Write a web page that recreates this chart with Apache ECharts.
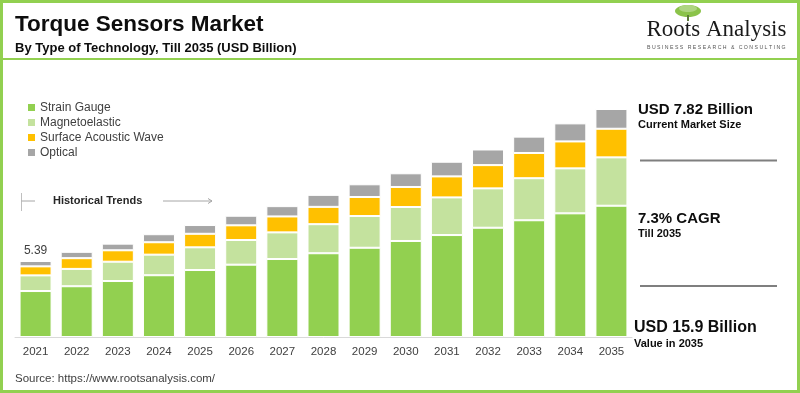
<!DOCTYPE html>
<html>
<head>
<meta charset="utf-8">
<script src="https://cdn.jsdelivr.net/npm/echarts@6/dist/echarts.min.js"></script>
<style>
html,body{margin:0;padding:0;background:#fff;}
#chart{width:800px;height:393px;}
</style>
</head>
<body>
<div id="chart"></div>
<script>
const years = ['2021','2022','2023','2024','2025','2026','2027','2028','2029','2030','2031','2032','2033','2034','2035'];
const strainGauge    = [3.26,3.60,3.97,4.38,4.75,5.13,5.53,5.94,6.33,6.81,7.23,7.75,8.28,8.77,9.31];
const magnetoelastic = [1.11,1.23,1.37,1.46,1.61,1.75,1.89,2.06,2.25,2.41,2.67,2.79,2.98,3.19,3.43];
const surfaceAcoustic= [0.64,0.76,0.81,0.88,0.96,1.04,1.13,1.23,1.35,1.42,1.49,1.65,1.79,1.91,2.03];
const optical        = [0.38,0.45,0.47,0.57,0.62,0.68,0.73,0.85,0.90,0.97,1.04,1.11,1.16,1.28,1.40];
const seriesNames = ['Strain Gauge','Magnetoelastic','Surface Acoustic Wave','Optical'];
const colors = ['#92D050','#C4E29E','#FFC000','#A6A6A6'];

const total2021 = (strainGauge[0]+magnetoelastic[0]+surfaceAcoustic[0]+optical[0]).toFixed(2);

const chart = echarts.init(document.getElementById('chart'), null, {renderer:'canvas'});
const FONT = '"Liberation Sans", Arial, sans-serif';
const seriesData = [strainGauge, magnetoelastic, surfaceAcoustic, optical];

const series = seriesData.map((d, i) => ({
  name: seriesNames[i],
  type: 'bar',
  stack: 'total',
  barWidth: 32,
  itemStyle: { color: colors[i], borderColor: '#fff', borderWidth: 1 },
  emphasis: { disabled: true },
  data: d.map((v, j) => (i === 3 && j === 0)
    ? { value: v, label: { show: true, position: 'top', distance: 4, formatter: total2021, fontSize: 12, color: '#404040', fontFamily: FONT } }
    : v)
}));

function txt(text, x, y, size, bold, color, extra) {
  return {
    type: 'text', x: x, y: y, silent: true,
    style: Object.assign({
      text: text,
      font: (bold ? 'bold ' : '') + size + 'px ' + FONT,
      fill: color || '#000',
      verticalAlign: 'middle',
      align: 'left'
    }, extra || {})
  };
}

const graphic = [
  // border
  { type: 'rect', silent: true, shape: { x: 1.5, y: 1.5, width: 797, height: 390 }, style: { fill: 'none', stroke: '#92D050', lineWidth: 3 } },
  { type: 'line', silent: true, shape: { x1: 3, y1: 59, x2: 797, y2: 59 }, style: { stroke: '#92D050', lineWidth: 2 } },
  // titles
  txt('Torque Sensors Market', 15, 25, 22.5, true, '#0d0d0d'),
  txt('By Type of Technology, Till 2035 (USD Billion)', 15, 48.5, 13, true, '#0d0d0d'),
  // logo
  { type: 'ellipse', silent: true, shape: { cx: 688, cy: 11, rx: 13, ry: 6 }, style: { fill: '#8BC34A' } },
  { type: 'ellipse', silent: true, shape: { cx: 688, cy: 8.5, rx: 9, ry: 3.5 }, style: { fill: '#AED581' } },
  { type: 'rect', silent: true, shape: { x: 687, y: 15, width: 2, height: 6 }, style: { fill: '#5D7A3A' } },
  txt('Roots Analysis', 646.5, 29.5, 23, false, '#1a1a1a', { font: '23px "Liberation Serif", "Times New Roman", serif' }),
  txt('B U S I N E S S   R E S E A R C H   &   C O N S U L T I N G', 647, 48, 5.2, false, '#555'),
  // historical trends
  { type: 'line', silent: true, shape: { x1: 21.5, y1: 193, x2: 21.5, y2: 211 }, style: { stroke: '#BFBFBF', lineWidth: 1 } },
  { type: 'line', silent: true, shape: { x1: 21.5, y1: 201, x2: 35, y2: 201 }, style: { stroke: '#A6A6A6', lineWidth: 1 } },
  txt('Historical Trends', 53, 201, 11, true, '#262626'),
  { type: 'line', silent: true, shape: { x1: 163, y1: 201, x2: 212, y2: 201 }, style: { stroke: '#A6A6A6', lineWidth: 1 } },
  { type: 'polyline', silent: true, shape: { points: [[208, 198.5], [212, 201], [208, 203.5]] }, style: { stroke: '#A6A6A6', lineWidth: 1, fill: 'none' } },
  // right annotations
  txt('USD 7.82 Billion', 638, 110, 15, true, '#0d0d0d'),
  txt('Current Market Size', 638, 125, 11, true, '#0d0d0d'),
  { type: 'line', silent: true, shape: { x1: 640, y1: 160.5, x2: 777, y2: 160.5 }, style: { stroke: '#7F7F7F', lineWidth: 2 } },
  txt('7.3% CAGR', 638, 219, 15, true, '#0d0d0d'),
  txt('Till 2035', 638, 233.5, 11, true, '#0d0d0d'),
  { type: 'line', silent: true, shape: { x1: 640, y1: 286, x2: 777, y2: 286 }, style: { stroke: '#7F7F7F', lineWidth: 2 } },
  txt('USD 15.9 Billion', 634, 328, 16, true, '#0d0d0d'),
  txt('Value in 2035', 634, 344, 11, true, '#0d0d0d'),
  // source
  txt('Source: https://www.rootsanalysis.com/', 15, 378.5, 11.5, false, '#404040')
];

const option = {
  backgroundColor: '#fff',
  animation: false,
  textStyle: { fontFamily: FONT },
  legend: {
    orient: 'vertical',
    left: 23,
    top: 95.5,
    itemWidth: 7,
    itemHeight: 7,
    itemGap: 1,
    icon: 'rect',
    selectedMode: false,
    data: seriesNames,
    itemStyle: { borderWidth: 0 },
    textStyle: { fontSize: 12, color: '#404040', lineHeight: 14, fontFamily: FONT }
  },
  grid: { left: 15, right: 168, top: 83.2, bottom: 56, containLabel: false },
  xAxis: {
    type: 'category',
    data: years,
    axisLine: { lineStyle: { color: '#D9D9D9', width: 1 } },
    axisTick: { show: false },
    axisLabel: { fontSize: 11.5, color: '#404040', margin: 9, fontFamily: FONT }
  },
  yAxis: {
    type: 'value', min: 0, max: 18, show: false,
    splitLine: { show: false }
  },
  series: series,
  graphic: graphic
};
chart.setOption(option);
</script>
</body>
</html>
